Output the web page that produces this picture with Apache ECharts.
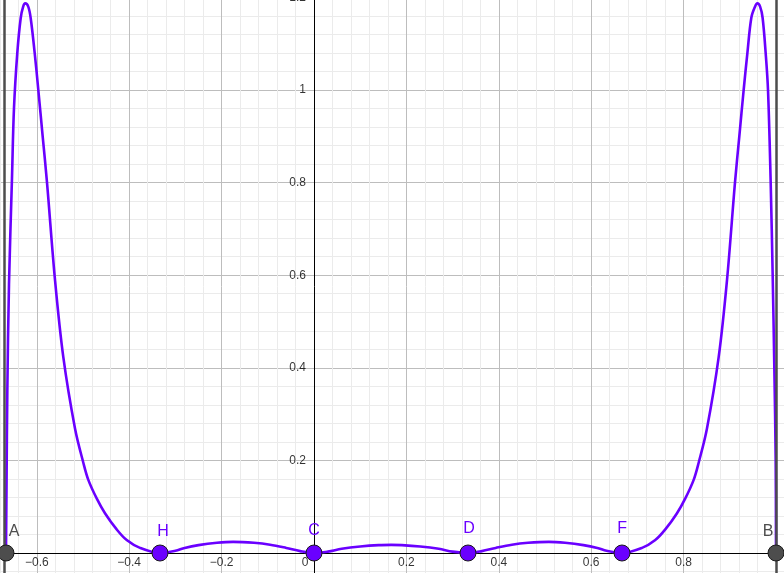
<!DOCTYPE html>
<html>
<head>
<meta charset="utf-8">
<script src="https://cdn.jsdelivr.net/npm/echarts@6/dist/echarts.min.js"></script>
<style>
  html, body { margin: 0; padding: 0; background: #fff; }
  #chart { width: 784px; height: 573px; }
</style>
</head>
<body>
<div id="chart"></div>
<script>
// curve samples (x, y)
var curveX = [
  -0.6667, -0.6655, -0.6638, -0.6602, -0.6537, -0.6494, -0.6422, -0.6349, -0.6295, -0.625,
  -0.6185, -0.6132, -0.6046, -0.5967, -0.5873, -0.5779, -0.5606, -0.5426, -0.5173, -0.4993,
  -0.4885, -0.4704, -0.4524, -0.4271, -0.4054, -0.3766, -0.3333,
  -0.30, -0.28, -0.25, -0.21, -0.175, -0.13, -0.095, -0.06, -0.03, 0,
  0.03, 0.06, 0.10, 0.14, 0.167, 0.19, 0.23, 0.27, 0.30, 0.3333,
  0.3633, 0.3933, 0.4283, 0.4633, 0.5083, 0.5433, 0.5833, 0.6133, 0.6333, 0.6667,
  0.71, 0.7387, 0.7604, 0.7857, 0.8037, 0.8218, 0.8326, 0.8506, 0.8759, 0.894, 0.9112,
  0.9206, 0.93, 0.938, 0.9466, 0.9546, 0.9596, 0.9656, 0.971, 0.9777, 0.9827,
  0.9885, 0.9928, 0.9964, 0.9993, 1.0
];
var curveY = [
  0, 0.15, 0.35, 0.58, 0.81, 0.96, 1.08, 1.155, 1.18, 1.187,
  1.18, 1.155, 1.08, 1.0, 0.90, 0.80, 0.59, 0.423, 0.269, 0.195,
  0.158, 0.118, 0.086, 0.051, 0.028, 0.011, 0,
  0.005, 0.011, 0.017, 0.022, 0.024, 0.022, 0.018, 0.011, 0.004, 0,
  0.003, 0.009, 0.014, 0.017, 0.0175, 0.017, 0.014, 0.009, 0.003, 0,
  0.004, 0.011, 0.018, 0.022, 0.024, 0.022, 0.017, 0.011, 0.005, 0,
  0.011, 0.028, 0.051, 0.086, 0.118, 0.158, 0.195, 0.269, 0.423, 0.59, 0.80,
  0.90, 1.0, 1.079, 1.156, 1.18, 1.187, 1.18, 1.156, 1.079, 1.0,
  0.8, 0.6, 0.4, 0.2, 0
];

// named points on the x axis
var endNames = ['A', 'B'];
var endX = [-0.6667, 1.0];
var nodeNames = ['H', 'C', 'D', 'F'];
var nodeX = [-0.3333, 0, 0.3333, 0.6667];

// tick labels
var xTicks = [-0.6, -0.4, -0.2, 0, 0.2, 0.4, 0.6, 0.8];
var yTicks = [0.2, 0.4, 0.6, 0.8, 1, 1.2];

var purple = '#6a00ff';
var gray = '#4d4d4d';
var font = 'Liberation Sans, Arial, sans-serif';
var labelOffset = { A: [8, -21], B: [-8, -21], H: [3, -21], C: [0, -22], D: [1, -24], F: [0, -24] };

function fmt(v) {
    var s = String(Math.abs(Math.round(v * 10) / 10));
    return v < 0 ? '\u2212' + s : s;
}

var chart = echarts.init(document.getElementById('chart'));
var curve = curveX.map(function(x, i) { return [x, curveY[i]]; });

function pointData(names, xs) {
    return names.map(function(n, i) {
        return {
            name: n,
            value: [xs[i], 0],
            label: { offset: labelOffset[n] }
        };
    });
}

var gridAxis = {
    type: 'value',
    interval: 0.2,
    axisLine: { onZero: true, lineStyle: { color: '#000', width: 1 } },
    axisTick: { show: false },
    axisLabel: { show: false },
    splitLine: { show: true, lineStyle: { color: '#bdbdbd', width: 1 } },
    minorTick: { show: false, splitNumber: 5 },
    minorSplitLine: { show: true, lineStyle: { color: '#ebebeb', width: 1 } }
};

var option = {
    animation: false,
    backgroundColor: '#ffffff',
    grid: {
        left: -55.6,
        right: -84.4,
        top: -95.2,
        bottom: -72.6,
        outerBoundsMode: 'none'
    },
    xAxis: Object.assign({ min: -0.8, max: 1.2 }, gridAxis),
    yAxis: Object.assign({ min: -0.2, max: 1.4 }, gridAxis),
    series: [
        {
            // vertical lines through A and B
            type: 'line',
            data: [],
            silent: true,
            z: 2,
            markLine: {
                silent: true,
                symbol: 'none',
                label: { show: false },
                lineStyle: { color: gray, width: 2.5, type: 'solid' },
                data: endX.map(function(x) { return { xAxis: x }; })
            }
        },
        {
            type: 'line',
            data: curve,
            showSymbol: false,
            smooth: 0.35,
            z: 3,
            lineStyle: { color: purple, width: 2.6 }
        },
        {
            // x tick labels
            type: 'scatter',
            silent: true,
            symbolSize: 0,
            z: 4,
            data: xTicks.map(function(v) {
                return { value: [v, 0], label: { offset: v === 0 ? [-9, 10] : [0, 10] } };
            }),
            label: {
                show: true,
                position: 'inside',
                align: 'center',
                verticalAlign: 'middle',
                fontFamily: font,
                fontSize: 12,
                color: '#000',
                formatter: function(p) { return fmt(p.value[0]); }
            }
        },
        {
            // y tick labels
            type: 'scatter',
            silent: true,
            symbolSize: 0,
            z: 4,
            data: yTicks.map(function(v) { return [0, v]; }),
            label: {
                show: true,
                position: 'inside',
                align: 'right',
                verticalAlign: 'middle',
                offset: [-8, 0],
                fontFamily: font,
                fontSize: 12,
                color: '#000',
                formatter: function(p) { return fmt(p.value[1]); }
            }
        },
        {
            type: 'scatter',
            data: pointData(endNames, endX),
            symbolSize: 16,
            z: 5,
            itemStyle: { color: gray, borderColor: '#1a1a1a', borderWidth: 1, opacity: 1 },
            label: {
                show: true,
                position: 'inside',
                formatter: '{b}',
                fontFamily: font,
                fontSize: 16,
                color: gray
            }
        },
        {
            type: 'scatter',
            data: pointData(nodeNames, nodeX),
            symbolSize: 16,
            z: 5,
            itemStyle: { color: purple, borderColor: '#1a1a1a', borderWidth: 1, opacity: 1 },
            label: {
                show: true,
                position: 'inside',
                formatter: '{b}',
                fontFamily: font,
                fontSize: 16,
                color: purple
            }
        }
    ]
};

chart.setOption(option);
</script>
</body>
</html>
